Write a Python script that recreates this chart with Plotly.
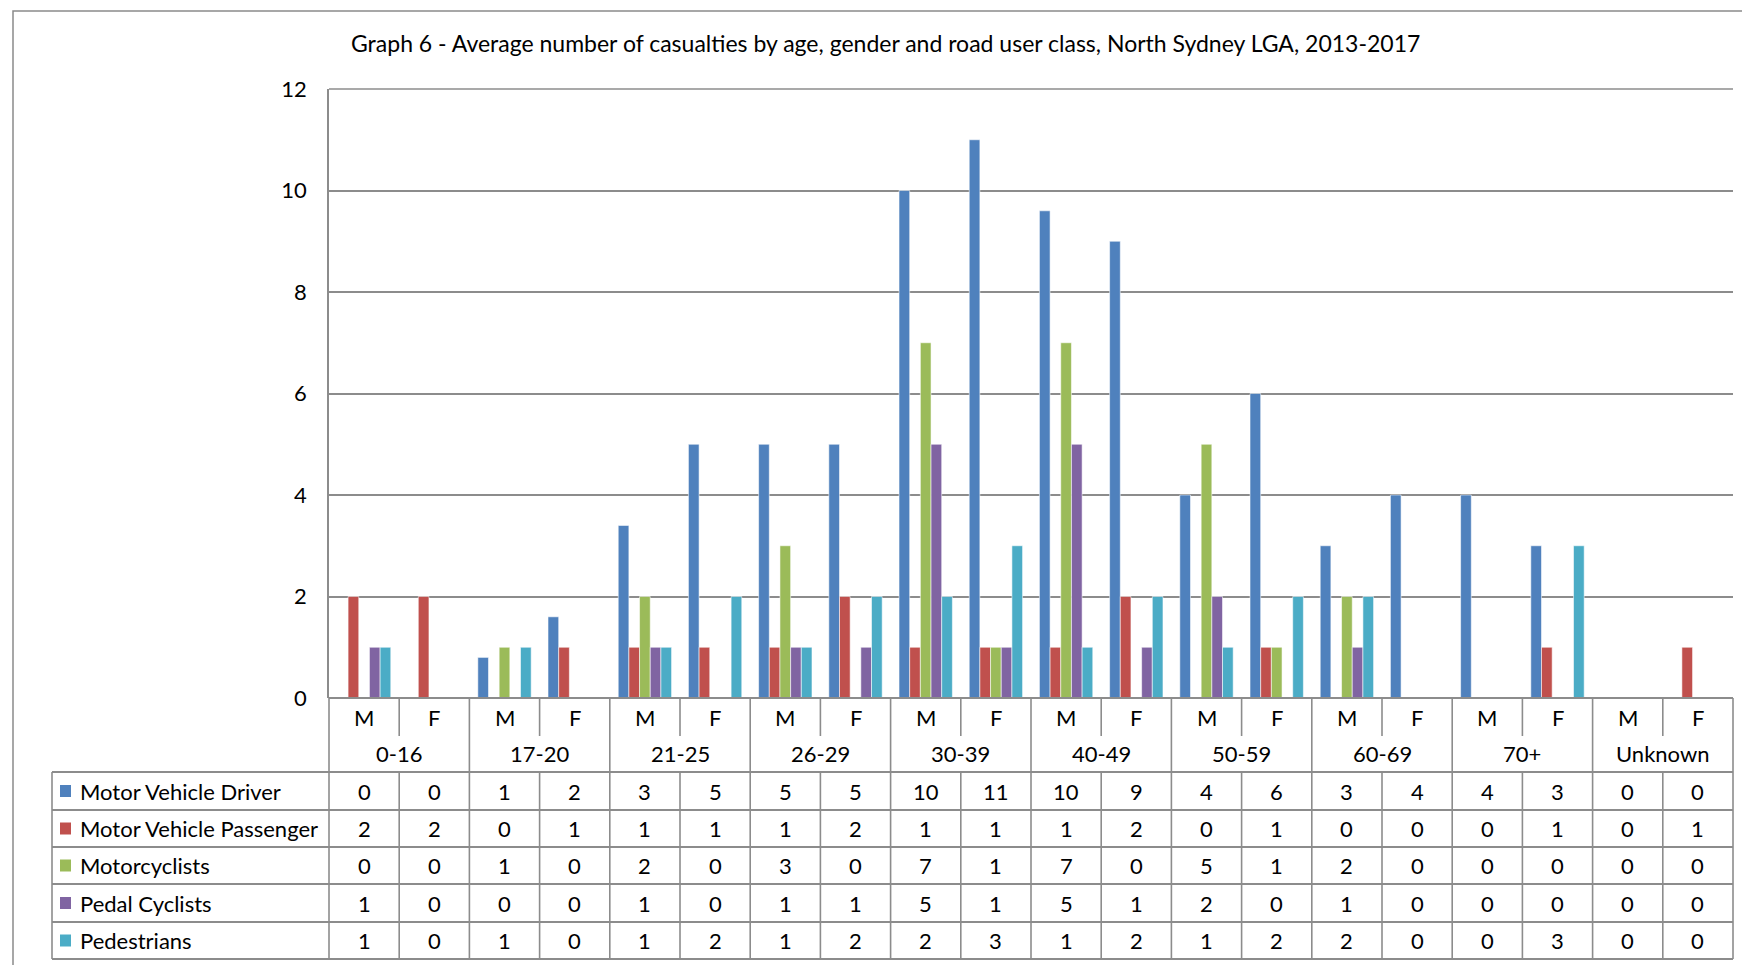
import plotly.graph_objects as go

# ---- data -------------------------------------------------------------
age_groups = ["0-16", "17-20", "21-25", "26-29", "30-39",
              "40-49", "50-59", "60-69", "70+", "Unknown"]
genders = ["M", "F"]
series_names = ["Motor Vehicle Driver", "Motor Vehicle Passenger",
                "Motorcyclists", "Pedal Cyclists", "Pedestrians"]

# values per (age group, gender) column, M then F for each age group
driver = [0, 0, 0.8, 1.6, 3.4, 5, 5, 5, 10, 11, 9.6, 9, 4, 6, 3, 4, 4, 3, 0, 0]
passenger = [2, 2, 0, 1, 1, 1, 1, 2, 1, 1, 1, 2, 0, 1, 0, 0, 0, 1, 0, 1]
motorcyclists = [0, 0, 1, 0, 2, 0, 3, 0, 7, 1, 7, 0, 5, 1, 2, 0, 0, 0, 0, 0]
pedal_cyclists = [1, 0, 0, 0, 1, 0, 1, 1, 5, 1, 5, 1, 2, 0, 1, 0, 0, 0, 0, 0]
pedestrians = [1, 0, 1, 0, 1, 2, 1, 2, 2, 3, 1, 2, 1, 2, 2, 0, 0, 3, 0, 0]

series_values = [driver, passenger, motorcyclists, pedal_cyclists, pedestrians]
series_colors = ["#4F81BD", "#C0504D", "#9BBB59", "#8064A2", "#4BACC6"]

title_text = ("Graph 6 - Average number of casualties by age, gender and road "
              "user class, North Sydney LGA, 2013-2017")
y_ticks = [0, 2, 4, 6, 8, 10, 12]

# ---- geometry (pixels) -----------------------------------------------
W, H = 1742, 965
PL, PR = 329, 1733          # plot area left / right
PT, PB = 89, 698            # plot area top / bottom (value 12 / value 0)
TABLE_LEFT = 52
ROW_MF = (698, 736)
ROW_AGE = (736, 772)
DATA_ROWS = [772, 810, 847, 884, 922, 959]
GRID = "#8c8c8c"
FONT = "Lato"
n_cols = len(age_groups) * len(genders)


def px_x(X):
    return (X - PL) / (PR - PL)


def px_y(Y):
    return (PB - Y) / (PB - PT)


def col_x(i):
    # paper x of a column boundary (i = 0..n_cols)
    return i / n_cols


fig = go.Figure()
x_pos = list(range(n_cols))
for name, vals, col in zip(series_names, series_values, series_colors):
    fig.add_bar(x=x_pos, y=vals, name=name,
                marker=dict(color=col, line=dict(color="rgba(255,255,255,0.55)", width=1)))

shapes = []
annotations = []


def hline(y, x0, x1, w=1.6):
    shapes.append(dict(type="line", xref="paper", yref="paper",
                       x0=x0, x1=x1, y0=y, y1=y,
                       line=dict(color=GRID, width=w)))


def vline(x, y0, y1, w=1.6):
    shapes.append(dict(type="line", xref="paper", yref="paper",
                       x0=x, x1=x, y0=y0, y1=y1,
                       line=dict(color=GRID, width=w)))


# outer chart frame
shapes.append(dict(type="rect", xref="paper", yref="paper",
                   x0=px_x(13), x1=px_x(1790), y0=px_y(11), y1=px_y(1010),
                   line=dict(color="#8a8a8a", width=1.5), layer="below"))

# top gridline of the plot area
hline(1.0, 0, 1, 1.5)

# table: horizontal rules
hline(0.0, 0, 1, 1.8)
for Y in DATA_ROWS:
    hline(px_y(Y), px_x(TABLE_LEFT), 1, 1.8)

# table: vertical rules
y_top = px_y(ROW_MF[0])
y_bot = px_y(DATA_ROWS[-1])
vline(px_x(TABLE_LEFT), px_y(DATA_ROWS[0]), y_bot)
for i in range(n_cols + 1):
    if i % 2 == 0:
        vline(col_x(i), y_top, y_bot)
    else:
        vline(col_x(i), y_top, px_y(ROW_MF[1]))
        vline(col_x(i), px_y(DATA_ROWS[0]), y_bot)

txt = dict(family=FONT, size=22, color="#000000")

# gender row and age-group row
for i in range(n_cols):
    annotations.append(dict(xref="paper", yref="paper",
                            x=col_x(i + 0.5), y=px_y(sum(ROW_MF) / 2),
                            text=genders[i % 2], showarrow=False, font=txt,
                            xanchor="center", yanchor="middle"))
for g, age in enumerate(age_groups):
    annotations.append(dict(xref="paper", yref="paper",
                            x=col_x(2 * g + 1), y=px_y(sum(ROW_AGE) / 2),
                            text=age, showarrow=False, font=txt,
                            xanchor="center", yanchor="middle"))

# data rows with legend keys
for r, (name, vals, col) in enumerate(zip(series_names, series_values, series_colors)):
    yc = (DATA_ROWS[r] + DATA_ROWS[r + 1]) / 2
    shapes.append(dict(type="rect", xref="paper", yref="paper",
                       x0=px_x(60), x1=px_x(71), y0=px_y(yc - 6), y1=px_y(yc + 6),
                       fillcolor=col, line=dict(width=0)))
    annotations.append(dict(xref="paper", yref="paper", x=px_x(78), y=px_y(yc),
                            text=name, showarrow=False, font=txt,
                            xanchor="left", yanchor="middle"))
    for i, v in enumerate(vals):
        annotations.append(dict(xref="paper", yref="paper",
                                x=col_x(i + 0.5), y=px_y(yc),
                                text=f"{v:.0f}", showarrow=False, font=txt,
                                xanchor="center", yanchor="middle"))

# title
annotations.append(dict(xref="paper", yref="paper", x=px_x(885), y=px_y(43),
                        text=title_text, showarrow=False,
                        font=dict(family=FONT, size=23, color="#000000"),
                        xanchor="center", yanchor="middle"))

fig.update_layout(
    width=W, height=H,
    margin=dict(l=PL, r=W - PR, t=PT, b=H - PB, pad=0),
    paper_bgcolor="white", plot_bgcolor="white",
    showlegend=False,
    barmode="group", bargap=0.24, bargroupgap=0,
    shapes=shapes, annotations=annotations,
    xaxis=dict(range=[-0.5, n_cols - 0.5], showticklabels=False, showgrid=False,
               zeroline=False, showline=False, fixedrange=True),
    yaxis=dict(range=[0, 12], tickvals=y_ticks, ticktext=[str(t) for t in y_ticks],
               showgrid=True, gridcolor=GRID, gridwidth=1.5,
               zeroline=False, showline=True, linecolor=GRID, linewidth=1.6,
               ticks="", ticklabelstandoff=16,
               tickfont=dict(family=FONT, size=22, color="#000000"),
               fixedrange=True),
)

fig.write_html("out.html")
